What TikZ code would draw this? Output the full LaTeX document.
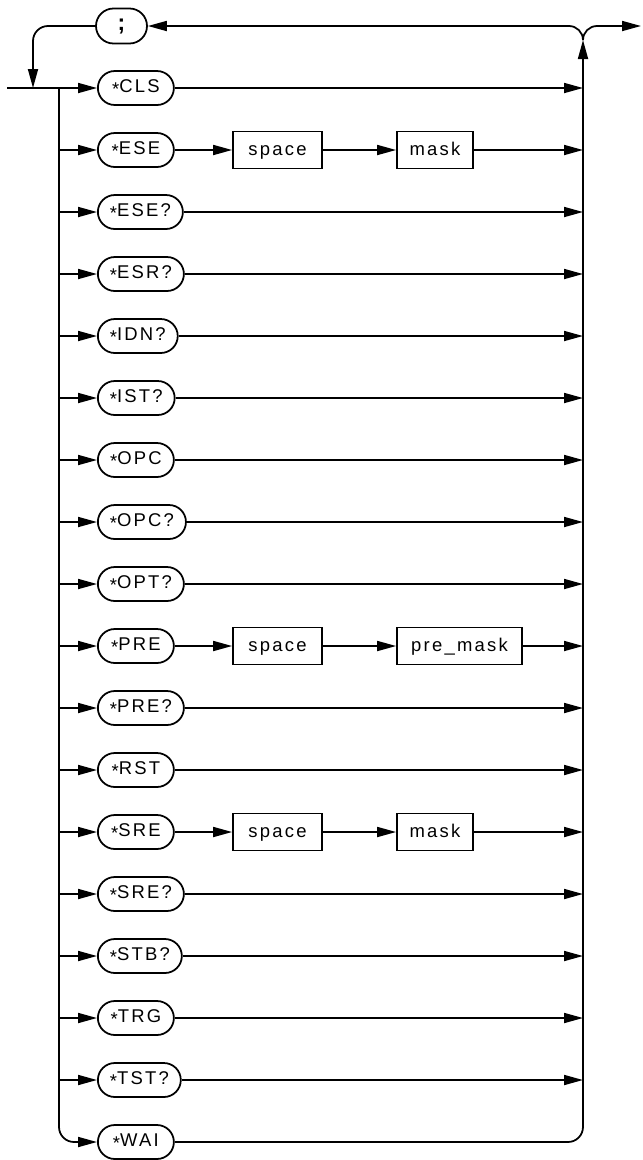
\documentclass[tikz,border=0pt]{standalone}
\usepackage{fontspec}
\setmainfont{Liberation Sans}[LetterSpace=12]
\usepackage{tikz}
\usetikzlibrary{arrows.meta,positioning}
\newcommand{\astk}{\raisebox{-0.3ex}{*}}
\tikzset{
  term/.style={draw, rounded corners=0.34cm, anchor=west, minimum width=1.52cm,
               minimum height=0.68cm, inner xsep=0.24cm, font=\fontsize{10.5}{12}\selectfont},
  semibox/.style={draw, rounded corners=0.35cm, minimum width=1.02cm,
               minimum height=0.7cm, font=\fontsize{13}{14}\selectfont\bfseries},
  param/.style={draw, minimum height=0.74cm, text height=1.1ex, text depth=0pt,
               font=\fontsize{10.5}{12}\selectfont},
  arr/.style={-{Triangle[length=0.38cm, width=0.2cm]}},
  rail/.style={line width=1pt},
}
\begin{document}
\begin{tikzpicture}[rail]
    \useasboundingbox (0,0) rectangle (12.84,-23.2);
    \coordinate (in) at (0.14,-1.76);
    \coordinate (lr) at (1.18,-1.76);
    \coordinate (loopin) at (0.66,-1.76);
    \coordinate (rtop) at (11.66,-0.8);
    \coordinate (out) at (12.82,-0.52);

    \node[semibox] (semi) at (2.43,-0.52) {;};

    \node[term] (cls) at (1.94,-1.76) {\astk CLS};
    \node[term] (ese) at (1.94,-3.00) {\astk ESE};
    \node[param, minimum width=1.78cm] (esesp) at (5.55,-3.00) {space};
    \node[param, minimum width=1.52cm] (esemask) at (8.70,-3.00) {mask};
    \node[term] (eseq) at (1.94,-4.24) {\astk ESE?};
    \node[term] (esrq) at (1.94,-5.48) {\astk ESR?};
    \node[term] (idnq) at (1.94,-6.72) {\astk IDN?};
    \node[term] (istq) at (1.94,-7.96) {\astk IST?};
    \node[term] (opc) at (1.94,-9.20) {\astk OPC};
    \node[term] (opcq) at (1.94,-10.44) {\astk OPC?};
    \node[term] (optq) at (1.94,-11.68) {\astk OPT?};
    \node[term] (pre) at (1.94,-12.92) {\astk PRE};
    \node[param, minimum width=1.78cm] (presp) at (5.55,-12.92) {space};
    \node[param, minimum width=2.5cm] (premask) at (9.19,-12.92) {pre\_mask};
    \node[term] (preq) at (1.94,-14.16) {\astk PRE?};
    \node[term] (rst) at (1.94,-15.40) {\astk RST};
    \node[term] (sre) at (1.94,-16.64) {\astk SRE};
    \node[param, minimum width=1.78cm] (sresp) at (5.55,-16.64) {space};
    \node[param, minimum width=1.52cm] (sremask) at (8.70,-16.64) {mask};
    \node[term] (sreq) at (1.94,-17.88) {\astk SRE?};
    \node[term] (stbq) at (1.94,-19.12) {\astk STB?};
    \node[term] (trg) at (1.94,-20.36) {\astk TRG};
    \node[term] (tstq) at (1.94,-21.60) {\astk TST?};
    \node[term] (wai) at (1.94,-22.84) {\astk WAI};

    % left rail and entry
    \draw[arr] (in) -- (cls.west);
    \draw[arr, rounded corners=0.3cm] (lr) |- (wai.west);
    \foreach \n in {ese,eseq,esrq,idnq,istq,opc,opcq,optq,pre,preq,rst,sre,sreq,stbq,trg,tstq}
      \draw[arr] (\n.west -| lr) -- (\n.west);

    % parameters
    \foreach \a/\b in {ese/esesp,esesp/esemask,pre/presp,presp/premask,sre/sresp,sresp/sremask}
      \draw[arr] (\a.east) -- (\b.west);

    % right rail
    \foreach \n in {cls,esemask,eseq,esrq,idnq,istq,opc,opcq,optq,premask,preq,rst,sremask,sreq,stbq,trg,tstq}
      \draw[arr] (\n.east) -- (\n.east -| rtop);
    \draw[arr, rounded corners=0.3cm] (wai.east) -| (rtop);

    % loop back and exit
    \draw[arr, rounded corners=0.28cm] (rtop) |- (semi.east);
    \draw[arr, rounded corners=0.28cm] (rtop) |- (out);
    \draw[arr, rounded corners=0.3cm] (semi.west) -| (loopin);
\end{tikzpicture}
\end{document}
